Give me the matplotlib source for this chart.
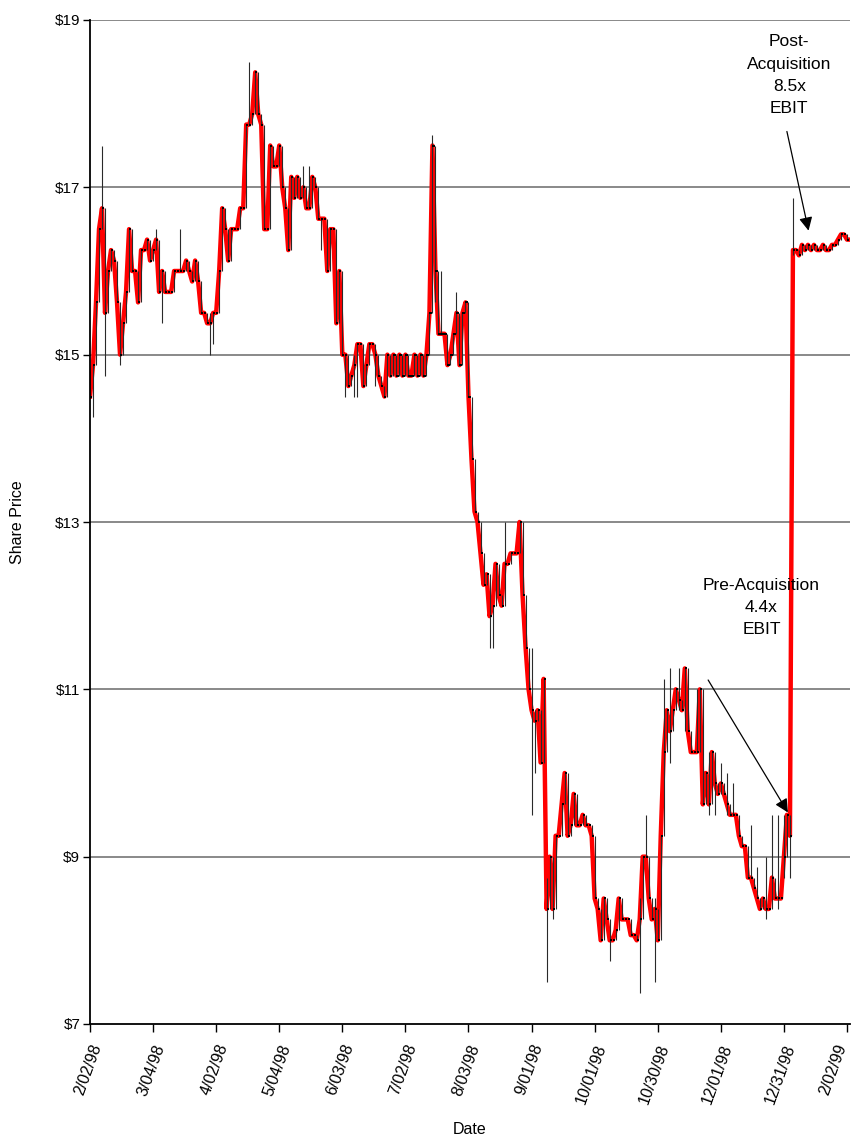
import numpy as np
import matplotlib
matplotlib.use("Agg")
import matplotlib.pyplot as plt
import matplotlib.transforms as mtransforms

plt.rcParams['font.family'] = ['Liberation Sans', 'DejaVu Sans']

# daily closing prices, one per trading day from 2/02/98 to 2/02/99
closes = [
    # Feb - Mar
    14.5, 14.875, 15.625, 16.5, 16.75, 15.5, 16.0, 16.25, 16.125, 15.625,
    15.0, 15.375, 15.75, 16.5, 16.0, 16.0, 15.625, 16.25, 16.25, 16.375,
    16.125, 16.25, 16.375, 15.75, 16.0, 15.75, 15.75, 15.75, 16.0, 16.0,
    16.0, 16.0, 16.125, 16.0, 15.875, 16.125, 15.875, 15.5, 15.5, 15.375,
    15.375, 15.5, 15.5,
    # Apr - May
    16.0, 16.75, 16.5, 16.125, 16.5, 16.5, 16.5, 16.75, 16.75, 17.75,
    17.75, 17.875, 18.375, 17.875, 17.75, 16.5, 16.5, 17.5, 17.25, 17.25,
    17.5, 17.0, 16.75, 16.25, 17.125, 16.875, 17.125, 16.875, 17.0, 16.75,
    16.75, 17.125, 17.0, 16.625, 16.625, 16.625, 16.0, 16.5, 16.5, 15.375,
    16.0, 15.0,
    # Jun - Jul
    15.0, 14.625, 14.75, 14.875, 15.125, 15.125, 14.625, 14.875, 15.125, 15.125,
    15.0, 14.75, 14.625, 14.5, 15.0, 14.75, 15.0, 14.75, 15.0, 14.75,
    15.0, 14.75, 14.75, 15.0, 14.75, 15.0, 14.75, 15.0, 15.5, 17.5,
    16.0, 15.25, 15.25, 15.25, 14.875, 15.0, 15.25, 15.5, 14.875, 15.5,
    15.625, 14.5,
    # Aug - Sep
    13.75, 13.125, 13.0, 12.625, 12.25, 12.375, 11.875, 12.0, 12.5, 12.125,
    12.0, 12.5, 12.5, 12.625, 12.625, 12.625, 13.0, 12.125, 11.5, 11.0,
    10.75, 10.625, 10.75, 10.125, 11.125, 8.375, 9.0, 8.375, 9.25, 9.25,
    9.625, 10.0, 9.25, 9.375, 9.75, 9.375, 9.375, 9.5, 9.375, 9.375,
    9.25, 8.5,
    # Oct - Nov
    8.375, 8.0, 8.5, 8.25, 8.0, 8.0, 8.125, 8.5, 8.25, 8.25,
    8.25, 8.0625, 8.0625, 8.0, 8.25, 9.0, 9.0, 8.5, 8.25, 8.375,
    8.0, 9.25, 10.25, 10.75, 10.5, 10.75, 11.0, 10.875, 10.75, 11.25,
    10.5, 10.25, 10.25, 10.25, 11.0, 9.625, 10.0, 9.625, 10.25, 9.875,
    9.75, 9.875,
    # Dec - Jan
    9.75, 9.625, 9.5, 9.5, 9.5, 9.25, 9.125, 9.125, 8.75, 8.75,
    8.625, 8.5, 8.375, 8.5, 8.375, 8.375, 8.75, 8.5, 8.5, 8.5,
    9.0, 9.5, 9.25, 16.25, 16.25, 16.1875, 16.3125, 16.25, 16.3125, 16.25,
    16.3125, 16.25, 16.25, 16.3125, 16.25, 16.25, 16.3125, 16.3125, 16.375, 16.4375,
    16.4375, 16.375, 16.375,
]

# days whose intraday range reaches past the neighbouring closes
wick_days = [1, 4, 5, 10, 22, 24, 30, 40, 41, 53, 71, 73, 77, 85, 88, 89, 95,
             114, 115, 117, 122, 133, 134, 138, 147, 148, 152, 154, 173, 183,
             185, 188, 191, 193, 196, 198, 202, 206, 208, 210, 212, 214, 220,
             222, 225, 227, 229, 231, 233, 234]
wick_highs = [14.875, 17.5, 16.75, 15.625, 16.5, 16.0, 16.5, 15.5, 15.5, 18.5,
              17.25, 17.25, 16.625, 15.0, 15.0, 15.125, 15.125, 17.625, 17.5,
              16.0, 15.75, 12.375, 12.0, 13.0, 11.5, 10.75, 8.75, 9.0, 8.25,
              8.5, 9.5, 8.5, 11.125, 11.25, 11.25, 11.25, 11.0, 10.25, 10.25,
              10.125, 10.0, 9.875, 9.375, 8.875, 9.0, 9.5, 9.5, 9.5, 9.5, 16.875]
wick_lows = [14.25, 16.5, 14.75, 14.875, 16.25, 15.375, 16.0, 15.0, 15.125, 17.75,
             16.875, 16.75, 16.25, 14.5, 14.5, 14.5, 14.625, 15.5, 15.625,
             15.25, 15.25, 11.5, 11.5, 12.0, 9.5, 10.0, 7.5, 8.25, 7.75,
             7.375, 9.0, 7.5, 9.25, 10.125, 10.75, 10.5, 10.25, 9.5, 9.5,
             9.75, 9.5, 9.5, 8.75, 8.5, 8.25, 8.375, 8.375, 8.75, 8.75, 16.1875]

tick_labels = ['2/02/98', '3/04/98', '4/02/98', '5/04/98', '6/03/98', '7/02/98',
               '8/03/98', '9/01/98', '10/01/98', '10/30/98', '12/01/98',
               '12/31/98', '2/02/99']
price_ticks = [7, 9, 11, 13, 15, 17, 19]

closes = np.array(closes)
days = np.arange(len(closes))
prev = np.concatenate([[closes[0]], closes[:-1]])
highs = np.maximum(prev, closes)
lows = np.minimum(prev, closes)
for d, h, l in zip(wick_days, wick_highs, wick_lows):
    highs[d] = h
    lows[d] = l

fig = plt.figure(figsize=(8.51, 11.45), dpi=100)
ax = fig.add_axes([90 / 851, 1 - 1024 / 1145, 760 / 851, 1004 / 1145])

for y in price_ticks[1:]:
    ax.axhline(y, color='#808080', lw=1.3, zorder=1)

ax.plot(days, closes, color='#ff0000', lw=3.2, solid_joinstyle='round', zorder=2)
ax.vlines(days, lows, highs, color='#2a2a2a', lw=0.8, zorder=3)
ax.hlines(closes, days, days + 0.7, color='black', lw=1.4, zorder=3)

ax.set_xlim(0, len(closes) - 1)
ax.set_ylim(7, 19)
ax.set_xticks(np.arange(0, len(closes), 21))
ax.set_xticklabels(tick_labels, rotation=70, ha='right', va='top',
                   rotation_mode='anchor', fontsize=11.5)
ax.set_yticks(price_ticks)
ax.set_yticklabels(['$%d' % p for p in price_ticks], fontsize=11)
ax.tick_params(axis='x', length=6, width=1, direction='out', pad=7)
ax.tick_params(axis='y', length=5, width=1, direction='out', pad=2)

# nudge the last date label left so it stays inside the figure
last = ax.get_xticklabels()[-1]
last.set_transform(last.get_transform() +
                   mtransforms.ScaledTranslation(-12 / 100, 0, fig.dpi_scale_trans))

for side in ['top', 'right']:
    ax.spines[side].set_visible(False)
for side in ['left', 'bottom']:
    ax.spines[side].set_linewidth(1.3)
    ax.spines[side].set_zorder(4)

fig.text(18 / 851, 1 - 522 / 1145, 'Share Price', rotation=90, ha='center',
         va='center', fontsize=11.5)
fig.text(470 / 851, 1 - 1130 / 1145, 'Date', ha='center', va='center',
         fontsize=11.5)

ax.text(232.8, 18.34, 'Post-\nAcquisition\n8.5x\nEBIT', ha='center', va='center',
        fontsize=12.5, linespacing=1.6)
ax.annotate('', xy=(239.4, 16.45), xytext=(231.8, 17.7),
            arrowprops=dict(arrowstyle='-|>', color='black', lw=0.9,
                            mutation_scale=20))

ax.text(223.5, 11.98, 'Pre-Acquisition\n4.4x\nEBIT', ha='center', va='center',
        fontsize=12.5, linespacing=1.6)
ax.annotate('', xy=(232.8, 9.5), xytext=(205.3, 11.14),
            arrowprops=dict(arrowstyle='-|>', color='black', lw=0.9,
                            mutation_scale=20))

fig.savefig('out.png', dpi=100)
